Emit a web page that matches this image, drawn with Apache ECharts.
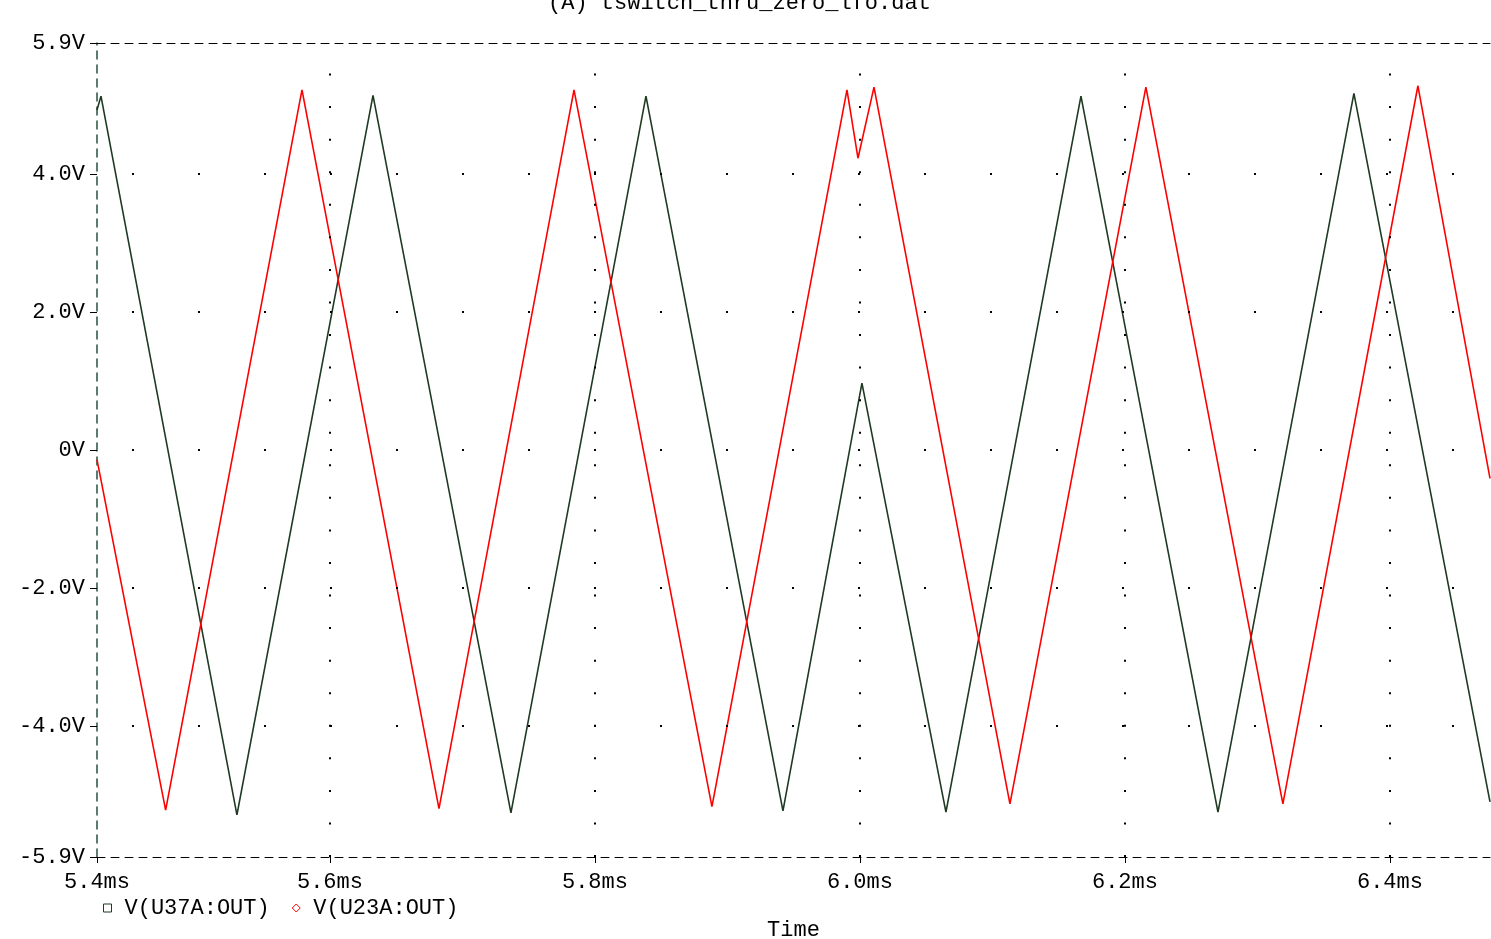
<!DOCTYPE html>
<html>
<head>
<meta charset="utf-8">
<script src="https://cdn.jsdelivr.net/npm/echarts@6/dist/echarts.min.js"></script>
<style>
html,body{margin:0;padding:0;background:#fff;}
#chart{width:1491px;height:939px;}
</style>
</head>
<body>
<div id="chart"></div>
<script>
// ---- data (time in ms, voltage in V) ----
const titleText = '(A) tswitch_thru_zero_lfo.dat';
const seriesNames = ['V(U37A:OUT)', 'V(U23A:OUT)'];
const xTickValues = [5.4242, 5.6, 5.8, 6.0, 6.2, 6.4];
const yTickValues = [-5.9, -4.0, -2.0, 0, 2.0, 4.0, 5.9];
const gridXValues = [5.6, 5.8, 6.0, 6.2, 6.4];
const gridYValues = [-4.0, -2.0, 0, 2.0, 4.0];
const xMin = 5.4242, xMax = 6.4755, yMin = -5.9, yMax = 5.9;

const u37aTime = [5.4242, 5.4272, 5.5298, 5.6325, 5.7366, 5.8385, 5.9419, 6.0015, 6.0649, 6.1668, 6.2702, 6.3728, 6.4755];
const u37aVolt = [4.93, 5.13, -5.29, 5.14, -5.26, 5.13, -5.23, 0.97, -5.25, 5.13, -5.25, 5.17, -5.10];

const u23aTime = [5.4242, 5.4760, 5.5789, 5.6823, 5.7842, 5.8883, 5.9902, 5.9985, 6.0106, 6.1132, 6.2158, 6.3192, 6.4211, 6.4755];
const u23aVolt = [-0.14, -5.22, 5.22, -5.20, 5.22, -5.17, 5.22, 4.23, 5.26, -5.13, 5.26, -5.13, 5.28, -0.41];

const FONT = '"Liberation Mono", "DejaVu Sans Mono", monospace';
const GREEN = '#1f3a22';
const RED = '#ff0000';

const zip = (a, b) => a.map((v, i) => [v, b[i]]);

const chart = echarts.init(document.getElementById('chart'), null, {renderer: 'canvas'});
chart.setOption({
  animation: false,
  backgroundColor: '#ffffff',
  title: {
    text: titleText, left: 543, top: -13,
    textStyle: {fontFamily: FONT, fontSize: 22, fontWeight: 'normal', color: '#000'}
  },
  legend: {
    left: 98, top: 892, itemWidth: 8, itemHeight: 8, itemGap: 22,
    textStyle: {fontFamily: FONT, fontSize: 22, color: '#000', padding: [0, 0, 0, 8]},
    data: [
      {name: seriesNames[0], icon: 'rect', itemStyle: {color: '#fff', borderColor: GREEN, borderWidth: 1}},
      {name: seriesNames[1], icon: 'diamond', itemStyle: {color: '#fff', borderColor: RED, borderWidth: 1}}
    ]
  },
  grid: {left: 97, right: 1, top: 43, bottom: 82, containLabel: false, outerBoundsMode: 'none'},
  xAxis: [{
    type: 'value', min: xMin, max: xMax, position: 'bottom',
    name: 'Time', nameLocation: 'middle', nameGap: 62,
    nameTextStyle: {fontFamily: FONT, fontSize: 22, color: '#000'},
    axisLine: {show: true, onZero: false, lineStyle: {color: '#000', width: 1, type: [8, 6]}},
    axisTick: {show: true, length: 6, customValues: xTickValues, lineStyle: {color: '#000'}},
    axisLabel: {
      customValues: xTickValues, margin: 14,
      fontFamily: FONT, fontSize: 22, color: '#000',
      formatter: v => v.toFixed(1) + 'ms'
    },
    splitLine: {show: false}
  }, {
    type: 'value', min: xMin, max: xMax, position: 'top',
    axisLine: {show: true, onZero: false, lineStyle: {color: '#000', width: 1, type: [8, 6]}},
    axisTick: {show: false}, axisLabel: {show: false}, splitLine: {show: false}
  }],
  yAxis: {
    type: 'value', min: yMin, max: yMax,
    axisLine: {show: true, onZero: false, lineStyle: {color: '#24503e', width: 1.5, type: [8, 6]}},
    axisTick: {show: true, length: 7, customValues: yTickValues, lineStyle: {color: '#000'}},
    axisLabel: {
      customValues: yTickValues, margin: 12,
      fontFamily: FONT, fontSize: 22, color: '#000',
      formatter: v => (Math.abs(v) < 1e-9 ? '0V' : v.toFixed(1) + 'V')
    },
    splitLine: {show: false}
  },
  series: [{
    name: seriesNames[0], type: 'line', data: zip(u37aTime, u37aVolt),
    showSymbol: false, symbol: 'rect', color: GREEN,
    lineStyle: {color: GREEN, width: 1.6},
    z: 3,
    markLine: {
      silent: true, symbol: ['none', 'none'], label: {show: false},
      emphasis: {disabled: true},
      data: gridYValues.map(v => ({yAxis: v, lineStyle: {color: '#000', width: 2, type: [2, 64], dashOffset: 31}}))
        .concat(gridXValues.map(v => ({xAxis: v, lineStyle: {color: '#000', width: 2, type: [2, 30.56]}})))
    }
  }, {
    name: seriesNames[1], type: 'line', data: zip(u23aTime, u23aVolt),
    showSymbol: false, symbol: 'diamond', color: RED,
    lineStyle: {color: RED, width: 1.6},
    z: 4
  }]
});
</script>
</body>
</html>
